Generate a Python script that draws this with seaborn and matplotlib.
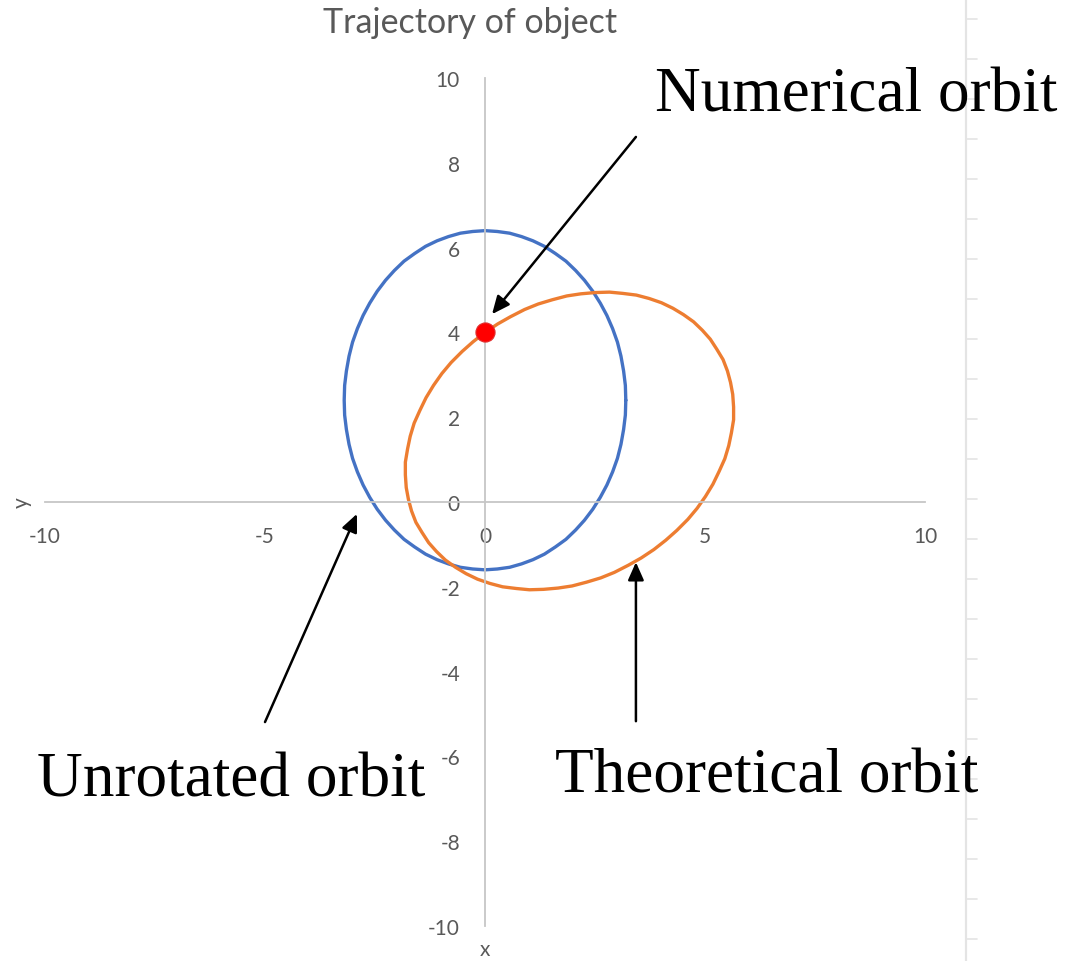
import numpy as np
import pandas as pd
import matplotlib
matplotlib.use("Agg")
import matplotlib.pyplot as plt
import seaborn as sns
from matplotlib.lines import Line2D

# orbit points
unrot_x = [3.20, 3.19, 3.15, 3.09, 3.01, 2.90, 2.77, 2.62, 2.45, 2.26, 2.06, 1.84,
           1.60, 1.35, 1.09, 0.83, 0.56, 0.28, 0.00, -0.28, -0.56, -0.83, -1.09,
           -1.35, -1.60, -1.84, -2.06, -2.26, -2.45, -2.62, -2.77, -2.90, -3.01,
           -3.09, -3.15, -3.19, -3.20, -3.19, -3.15, -3.09, -3.01, -2.90, -2.77,
           -2.62, -2.45, -2.26, -2.06, -1.84, -1.60, -1.35, -1.09, -0.83, -0.56,
           -0.28, 0.00, 0.28, 0.56, 0.83, 1.09, 1.35, 1.60, 1.84, 2.06, 2.26,
           2.45, 2.62, 2.77, 2.90, 3.01, 3.09, 3.15, 3.19, 3.20]
unrot_y = [2.40, 2.75, 3.09, 3.44, 3.77, 4.09, 4.40, 4.69, 4.97, 5.23, 5.46, 5.68,
           5.86, 6.03, 6.16, 6.26, 6.34, 6.38, 6.40, 6.38, 6.34, 6.26, 6.16,
           6.03, 5.86, 5.68, 5.46, 5.23, 4.97, 4.69, 4.40, 4.09, 3.77,
           3.44, 3.09, 2.75, 2.40, 2.05, 1.71, 1.36, 1.03, 0.71, 0.40,
           0.11, -0.17, -0.43, -0.66, -0.88, -1.06, -1.23, -1.36, -1.46, -1.54,
           -1.58, -1.60, -1.58, -1.54, -1.46, -1.36, -1.23, -1.06, -0.88, -0.66, -0.43,
           -0.17, 0.11, 0.40, 0.71, 1.03, 1.36, 1.71, 2.05, 2.40]

theo_x = [0.00, -0.27, -0.52, -0.77, -0.98, -1.17, -1.34, -1.48, -1.61, -1.70,
          -1.76, -1.81, -1.81, -1.79, -1.74, -1.67, -1.57, -1.43, -1.28, -1.10,
          -0.90, -0.67, -0.43, -0.17, 0.11, 0.40, 0.71, 1.01, 1.33, 1.66,
          1.98, 2.31, 2.63, 2.94, 3.26, 3.55, 3.84, 4.11, 4.36, 4.61,
          4.82, 5.01, 5.18, 5.32, 5.45, 5.54, 5.60, 5.65, 5.65, 5.63,
          5.58, 5.51, 5.41, 5.27, 5.12, 4.94, 4.74, 4.51, 4.27, 4.01,
          3.73, 3.44, 3.13, 2.83, 2.51, 2.18, 1.86, 1.53, 1.21, 0.90,
          0.58, 0.29, 0.00]
theo_y = [4.00, 3.78, 3.55, 3.29, 3.03, 2.75, 2.46, 2.16, 1.86, 1.55,
          1.25, 0.94, 0.64, 0.34, 0.06, -0.21, -0.48, -0.72, -0.96, -1.17,
          -1.37, -1.54, -1.69, -1.82, -1.92, -2.00, -2.04, -2.07, -2.06, -2.03,
          -1.98, -1.89, -1.79, -1.66, -1.49, -1.32, -1.12, -0.90, -0.67, -0.41,
          -0.15, 0.13, 0.42, 0.72, 1.02, 1.33, 1.63, 1.94, 2.24, 2.54,
          2.82, 3.09, 3.36, 3.60, 3.84, 4.05, 4.25, 4.42, 4.57, 4.70,
          4.80, 4.88, 4.92, 4.95, 4.94, 4.91, 4.86, 4.77, 4.67, 4.54,
          4.37, 4.20, 4.00]

num_x = [0.0]
num_y = [4.0]

x_ticks = [-10, -5, 0, 5, 10]
y_ticks = [-10, -8, -6, -4, -2, 0, 2, 4, 6, 8, 10]

W, H = 1086, 962
sns.set_theme(style="white")
plt.rcParams["font.family"] = ["Lato", "DejaVu Sans"]
plt.rcParams["axes.unicode_minus"] = False
grey = "#595959"
axis_col = "#c6c6c6"

fig = plt.figure(figsize=(W / 100, H / 100), dpi=100)
ax = fig.add_axes([45 / W, (H - 927) / H, 880 / W, 848 / H])

df_u = pd.DataFrame({"x": unrot_x, "y": unrot_y})
df_t = pd.DataFrame({"x": theo_x, "y": theo_y})
sns.lineplot(data=df_u, x="x", y="y", sort=False, estimator=None,
             color="#4472C4", linewidth=2.4, ax=ax, solid_joinstyle="round")
sns.lineplot(data=df_t, x="x", y="y", sort=False, estimator=None,
             color="#ED7D31", linewidth=2.4, ax=ax, solid_joinstyle="round")
sns.scatterplot(x=num_x, y=num_y, color="#ff0000", s=190,
                edgecolor="#e03030", linewidth=0.8, ax=ax, zorder=5)

ax.set_xlim(-10, 10)
ax.set_ylim(-10, 10)
ax.set_xticks(x_ticks)
ax.set_yticks(y_ticks)
ax.set_xlabel("")
ax.set_ylabel("")
for s in ["top", "right"]:
    ax.spines[s].set_visible(False)
ax.spines["left"].set_position("zero")
ax.spines["bottom"].set_position("zero")
for s in ["left", "bottom"]:
    ax.spines[s].set_color(axis_col)
    ax.spines[s].set_linewidth(1.3)
ax.tick_params(axis="both", length=0, labelsize=15, labelcolor=grey)
ax.tick_params(axis="x", pad=17)
ax.tick_params(axis="y", pad=18)

fig.text(470 / W, 1 - 23 / H, "Trajectory of object", ha="center", va="center",
         fontsize=24.5, color=grey)
fig.text(22 / W, 1 - 503 / H, "y", ha="center", va="center", rotation=90,
         fontsize=15, color=grey)
fig.text(485 / W, 1 - 950 / H, "x", ha="center", va="center",
         fontsize=15, color=grey)

# spreadsheet edge on the right
fig.add_artist(Line2D([966 / W, 966 / W], [0, 1], color="#e4e4e4", lw=1.6))
for yy in range(20, H, 40):
    fig.add_artist(Line2D([966 / W, 977 / W], [1 - yy / H, 1 - yy / H],
                          color="#e4e4e4", lw=1.2))

# annotations
serif = ["Liberation Serif", "DejaVu Serif"]
arrow = dict(arrowstyle="-|>,head_length=0.9,head_width=0.4", color="black", lw=1.8,
             shrinkA=0, shrinkB=0)
ax.annotate("", xy=(0.16, 4.43), xytext=(3.43, 8.61), arrowprops=arrow,
            annotation_clip=False)
ax.annotate("", xy=(-2.91, -0.28), xytext=(-5.0, -5.19), arrowprops=arrow,
            annotation_clip=False)
ax.annotate("", xy=(3.43, -1.42), xytext=(3.43, -5.17), arrowprops=arrow,
            annotation_clip=False)

fig.text(655 / W, 1 - 112 / H, "Numerical orbit", ha="left", va="baseline",
         fontsize=45.5, family=serif, color="black")
fig.text(37 / W, 1 - 797 / H, "Unrotated orbit", ha="left", va="baseline",
         fontsize=45.5, family=serif, color="black")
fig.text(555 / W, 1 - 793 / H, "Theoretical orbit", ha="left", va="baseline",
         fontsize=45.5, family=serif, color="black")

fig.savefig("out.png", dpi=100)
